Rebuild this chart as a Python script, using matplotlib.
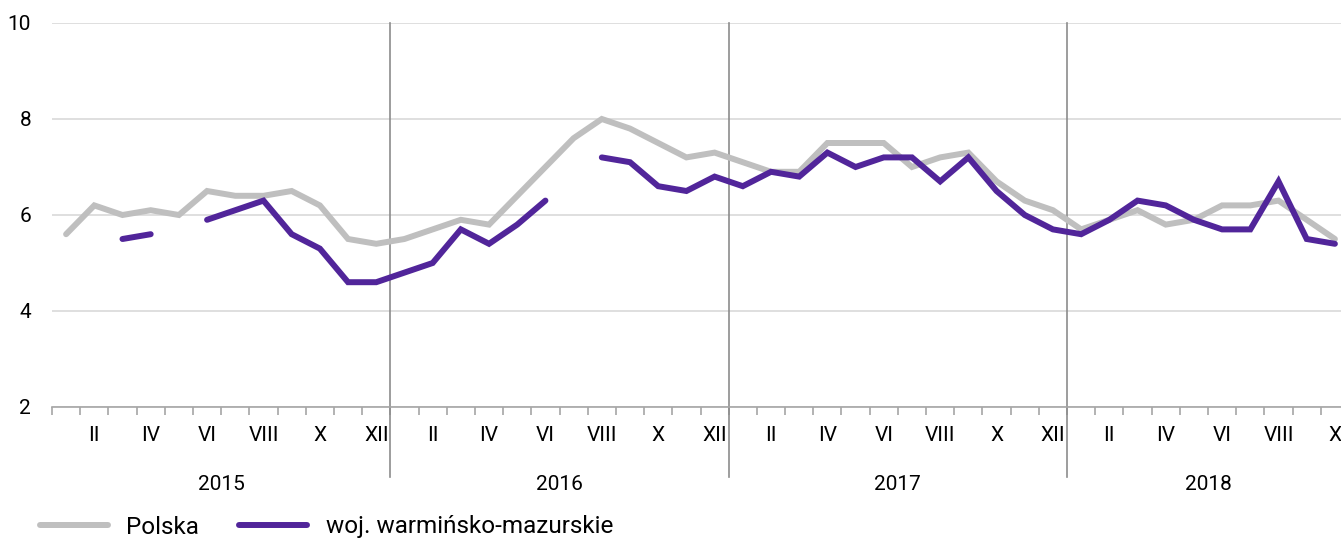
import matplotlib
matplotlib.use("Agg")
import matplotlib.pyplot as plt
import matplotlib.transforms as mtransforms
import numpy as np

plt.rcParams['font.family'] = ['Roboto', 'DejaVu Sans']

nan = np.nan
years = ['2015', '2016', '2017', '2018']
months = ['I', 'II', 'III', 'IV', 'V', 'VI', 'VII', 'VIII', 'IX', 'X', 'XI', 'XII']
n_months = [12, 12, 12, 10]

polska = [5.6, 6.2, 6.0, 6.1, 6.0, 6.5, 6.4, 6.4, 6.5, 6.2, 5.5, 5.4,
          5.5, 5.7, 5.9, 5.8, 6.4, 7.0, 7.6, 8.0, 7.8, 7.5, 7.2, 7.3,
          7.1, 6.9, 6.9, 7.5, 7.5, 7.5, 7.0, 7.2, 7.3, 6.7, 6.3, 6.1,
          5.7, 5.9, 6.1, 5.8, 5.9, 6.2, 6.2, 6.3, 5.9, 5.5]
warm = [nan, nan, 5.5, 5.6, nan, 5.9, 6.1, 6.3, 5.6, 5.3, 4.6, 4.6,
        4.8, 5.0, 5.7, 5.4, 5.8, 6.3, nan, 7.2, 7.1, 6.6, 6.5, 6.8,
        6.6, 6.9, 6.8, 7.3, 7.0, 7.2, 7.2, 6.7, 7.2, 6.5, 6.0, 5.7,
        5.6, 5.9, 6.3, 6.2, 5.9, 5.7, 5.7, 6.7, 5.5, 5.4]

x = np.arange(len(polska))
n = len(polska)

fig = plt.figure(figsize=(13.41, 5.41), dpi=100)
# plot area runs a little past the right edge, as in the original
ax = fig.add_axes([52/1341, 1-407/541, 1297/1341, (407-23)/541])

ax.plot(x, polska, color='#BFBFBF', lw=4.3, solid_capstyle='round',
        solid_joinstyle='miter', label='Polska', zorder=3)
ax.plot(x, warm, color='#51259A', lw=4.3, solid_capstyle='round',
        solid_joinstyle='miter', label='woj. warmińsko-mazurskie', zorder=4)

ax.set_xlim(-0.5, n - 0.5)
ax.set_ylim(2, 10)
ax.set_yticks([2, 4, 6, 8, 10])
ax.yaxis.grid(True, color='#D9D9D9', lw=1.2)
ax.set_axisbelow(True)
for s in ['top', 'right', 'left']:
    ax.spines[s].set_visible(False)
ax.spines['bottom'].set_color('#A6A6A6')
ax.spines['bottom'].set_linewidth(1.2)
ax.tick_params(axis='y', length=0, labelsize=15, pad=15)

# month labels (every second month), ticks at bin edges
labels = []
for ny in n_months:
    labels += months[:ny]
lab_pos = [i for i in range(n) if i % 2 == 1]
ax.set_xticks(lab_pos)
ax.set_xticklabels([labels[i] for i in lab_pos])
ax.set_xticks(np.arange(-0.5, n, 1), minor=True)
ax.tick_params(axis='x', which='major', length=0, labelsize=15, pad=14)
ax.tick_params(axis='x', which='minor', length=6, color='#A6A6A6', width=1.2)

# year separators and labels
trans = mtransforms.blended_transform_factory(ax.transData, ax.transAxes)
start = 0
for i, (yr, ny) in enumerate(zip(years, n_months)):
    if i > 0:
        ax.plot([start - 0.5, start - 0.5], [-70/384, 1], transform=trans,
                color='#8C8C8C', lw=1.2, clip_on=False, zorder=2)
    ax.text(start + (ny - 1) / 2, -78/384, yr, transform=trans,
            ha='center', va='center', fontsize=15)
    start += ny

fig.legend(loc='center left', bbox_to_anchor=(40/1341, 1-527/541), ncol=2,
           frameon=False, fontsize=17.5, handlelength=2.8, handletextpad=0.75,
           columnspacing=1.65, borderaxespad=0, borderpad=0)

fig.savefig('out.png', dpi=100)
